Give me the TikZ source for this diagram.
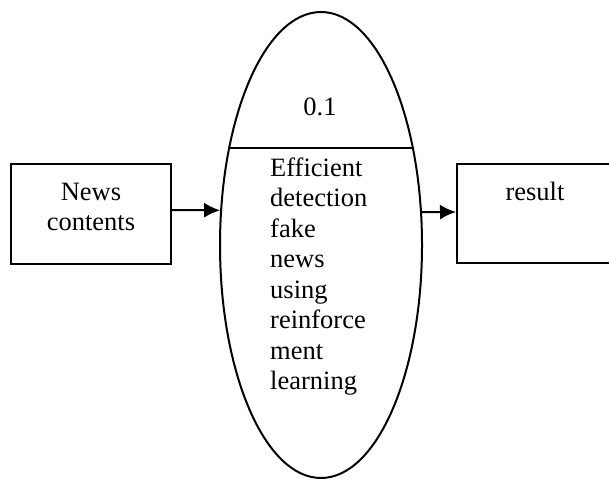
\documentclass[tikz,border=0pt]{standalone}
\usepackage{fontspec}
\setmainfont{Liberation Serif}
\usetikzlibrary{shapes.geometric,arrows.meta}
\begin{document}
\begin{tikzpicture}[x=1pt,y=-1pt,
  txt/.style={font=\fontsize{26.5}{30.5}\selectfont,inner sep=0pt},
  box/.style={draw,line width=2pt,rectangle,inner sep=0pt},
  arr/.style={line width=2pt,-{Latex[length=16pt,width=15pt]}}]
  \useasboundingbox (0,0) rectangle (609,479);
  \clip (0,0) rectangle (609,479);

  % input and output stores
  \node[box,minimum width=160pt,minimum height=100pt] (in) at (91,214) {};
  \node[box,minimum width=160pt,minimum height=99pt,anchor=west] (out) at (456,213.5) {};

  % process bubble
  \node[draw,line width=2pt,ellipse,inner sep=0pt,minimum width=202pt,minimum height=466pt] (proc) at (321,245) {};
  \coordinate (sepL) at (229.2,148);
  \coordinate (sepR) at (412.8,148);
  \draw[line width=2pt] (sepL) -- (sepR);

  % labels
  \node[txt,anchor=base] (inlbl) at (91,200) {News};
  \node[txt,anchor=base] (inlbl2) at (91,230) {contents};
  \node[txt,anchor=base] (outlbl) at (535,200) {result};
  \node[txt,anchor=base] (pid) at (320,115) {0.1};
  \node[txt,anchor=north west,align=left] (pname) at (270,157.5)
    {Efficient\\detection\\fake\\news\\using\\reinforce\\ment\\learning};

  % flows
  \draw[arr] ([yshift=4pt]in.east) -- (proc.161.7);
  \draw[arr] (proc.18.3) -- ([yshift=1.5pt]out.west);
\end{tikzpicture}
\end{document}
